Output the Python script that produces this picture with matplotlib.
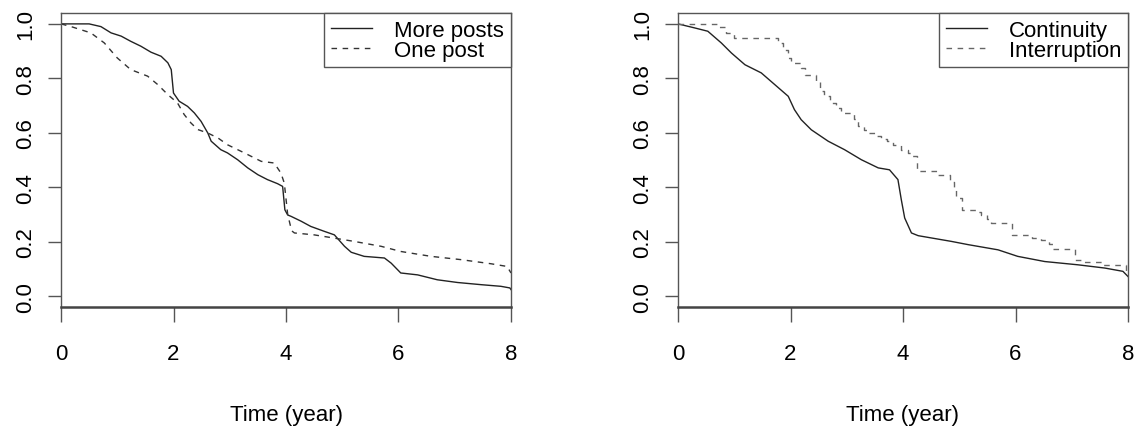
#!/usr/bin/env python
# -*- coding:utf-8 -*-
"""
Two Kaplan-Meier style survival curves side by side, R base-graphics look.
Values read off the reference picture.
"""

import matplotlib
matplotlib.use("Agg")
from matplotlib import pyplot as plt

plt.rc("font", family=["Liberation Sans", "DejaVu Sans"])
plt.rc("font", size=16)

# Left panel: number of posts
timeMore = [0, 0.5, 0.71, 0.89, 1.07, 1.24, 1.42, 1.6, 1.78, 1.9, 1.96, 2.0,
	2.1, 2.25, 2.37, 2.49, 2.61, 2.67, 2.84, 2.96, 3.14, 3.32, 3.5, 3.67,
	3.85, 3.94, 3.98, 4.03, 4.09, 4.27, 4.44, 4.68, 4.86, 5.04, 5.16, 5.39,
	5.75, 5.87, 6.04, 6.34, 6.69, 7.05, 7.47, 7.82, 7.98, 8.0]
survMore = [1.0, 1.0, 0.99, 0.967, 0.955, 0.936, 0.918, 0.896, 0.881, 0.857,
	0.832, 0.746, 0.716, 0.697, 0.673, 0.642, 0.599, 0.569, 0.538, 0.526,
	0.501, 0.471, 0.446, 0.428, 0.413, 0.403, 0.317, 0.298, 0.293, 0.275,
	0.256, 0.238, 0.225, 0.183, 0.161, 0.146, 0.14, 0.121, 0.085, 0.078,
	0.06, 0.05, 0.042, 0.036, 0.03, 0.024]

timeOne = [0, 0.18, 0.53, 0.77, 1.0, 1.24, 1.54, 1.72, 1.9, 2.07, 2.19, 2.31,
	2.43, 2.61, 2.79, 2.96, 3.26, 3.56, 3.79, 3.91, 3.97, 4.03, 4.1, 4.15,
	4.5, 4.86, 5.21, 5.69, 6.04, 6.58, 7.11, 7.64, 7.93, 8.0]
survOne = [1.0, 0.99, 0.967, 0.93, 0.875, 0.832, 0.808, 0.777, 0.74, 0.71,
	0.667, 0.636, 0.612, 0.599, 0.581, 0.556, 0.526, 0.495, 0.489, 0.452,
	0.415, 0.30, 0.24, 0.232, 0.225, 0.213, 0.201, 0.183, 0.164, 0.146,
	0.134, 0.119, 0.109, 0.085]

# Right panel: continuity of the career
timeCont = [0, 0.3, 0.53, 0.77, 0.95, 1.19, 1.48, 1.72, 1.96, 2.07, 2.19,
	2.37, 2.67, 2.96, 3.26, 3.56, 3.76, 3.91, 3.97, 4.03, 4.15, 4.27, 4.86,
	5.16, 5.69, 6.04, 6.52, 7.11, 7.59, 7.91, 8.0]
survCont = [1.0, 0.985, 0.973, 0.93, 0.893, 0.85, 0.82, 0.777, 0.734, 0.685,
	0.648, 0.611, 0.569, 0.538, 0.501, 0.471, 0.464, 0.428, 0.354, 0.287,
	0.232, 0.222, 0.201, 0.189, 0.17, 0.146, 0.127, 0.115, 0.103, 0.091,
	0.072]

# Interruption group has few events -> clear steps
timeInt = [0, 0.72, 0.85, 1.0, 1.78, 1.86, 1.95, 2.01, 2.19, 2.25, 2.46, 2.52,
	2.6, 2.7, 2.8, 2.9, 3.13, 3.2, 3.3, 3.38, 3.5, 3.6, 3.72, 3.83, 3.97,
	4.08, 4.15, 4.24, 4.6, 4.83, 4.9, 4.95, 5.04, 5.3, 5.39, 5.5, 5.57, 5.93,
	6.3, 6.46, 6.6, 6.66, 7.05, 7.2, 7.55, 7.97, 8.0]
survInt = [1.0, 0.99, 0.965, 0.949, 0.93, 0.905, 0.875, 0.857, 0.838, 0.814,
	0.785, 0.755, 0.735, 0.71, 0.69, 0.673, 0.65, 0.624, 0.61, 0.6, 0.59,
	0.578, 0.568, 0.555, 0.538, 0.525, 0.513, 0.458, 0.446, 0.42, 0.39,
	0.36, 0.317, 0.31, 0.299, 0.285, 0.268, 0.225, 0.215, 0.207, 0.19,
	0.172, 0.134, 0.125, 0.115, 0.091, 0.091]

xTicks = [0, 2, 4, 6, 8]
yTicks = [0.0, 0.2, 0.4, 0.6, 0.8, 1.0]
xLabel = "Time (year)"

W, H = 1141, 431
fig = plt.figure(figsize=(W / 100.0, H / 100.0), dpi=100)

boxCol = "#555555"
lineCol = "#222222"


def rAxes(left):
	"""Axes that looks like an R base plot (pixel positions from reference)."""
	ax = fig.add_axes([left / W, 1 - 308.0 / H, 450.0 / W, 294.0 / H])
	ax.set_xlim(0, 8)
	ax.set_ylim(-0.04, 1.04)
	for s in ax.spines.values():
		s.set_color(boxCol)
		s.set_linewidth(1.0)
	ax.spines["bottom"].set_linewidth(1.8)
	ax.spines["bottom"].set_color("#444444")
	ax.set_xticks(xTicks)
	ax.set_xticklabels(["%d" % t for t in xTicks])
	ax.set_yticks(yTicks)
	ax.set_yticklabels(["%.1f" % t for t in yTicks])
	ax.tick_params(axis="x", direction="out", length=10.8, width=1.0,
		color=boxCol, pad=15)
	ax.tick_params(axis="y", direction="out", length=9.4, width=1.0,
		color=boxCol, pad=8.5)
	for lab in ax.get_yticklabels():
		lab.set_rotation(90)
		lab.set_va("center")
		lab.set_ha("right")
	ax.set_xlabel(xLabel, labelpad=29)
	return ax


def addLegend(ax):
	leg = ax.legend(loc="upper right", bbox_to_anchor=(1.0, 1.0),
		borderaxespad=0, fancybox=False, framealpha=1, edgecolor=boxCol,
		handlelength=1.85, handletextpad=1.0, borderpad=0.3,
		labelspacing=-0.04, fontsize=16)
	leg.get_frame().set_linewidth(1.0)
	return leg


# Left panel
ax1 = rAxes(61)
ax1.plot(timeMore, survMore, color=lineCol, linewidth=1.0, label="More posts")
ax1.plot(timeOne, survOne, color="#333333", linewidth=1.0,
	dashes=(4, 4), label="One post")
addLegend(ax1)

# Right panel
ax2 = rAxes(678)
ax2.plot(timeCont, survCont, color=lineCol, linewidth=1.0, label="Continuity")
ax2.step(timeInt, survInt, where="post", color="#666666", linewidth=1.0,
	dashes=(4, 4), label="Interruption")
addLegend(ax2)

plt.savefig("out.png", dpi=100)
